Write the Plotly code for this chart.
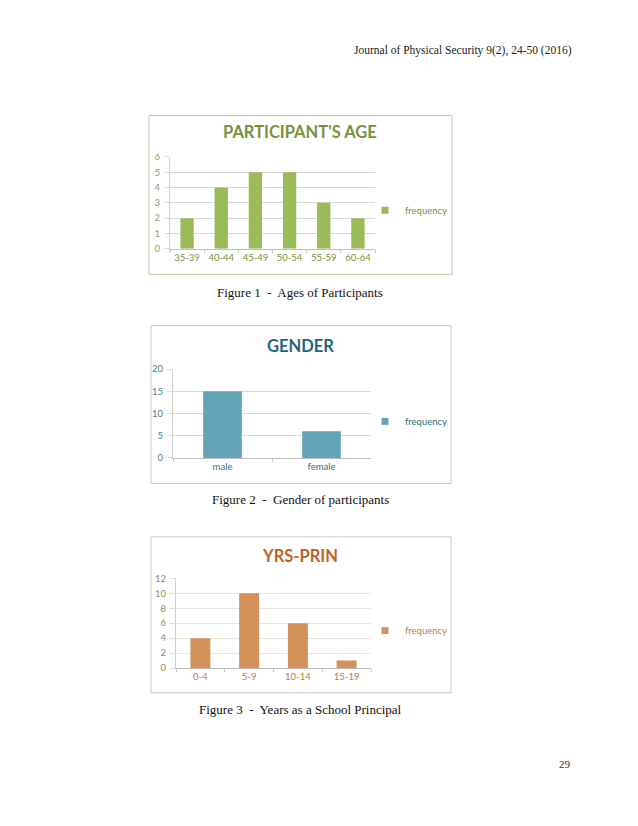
import plotly.graph_objects as go

W, H = 638, 826

age_groups = ["35-39", "40-44", "45-49", "50-54", "55-59", "60-64"]
age_freq = [2, 4, 5, 5, 3, 2]

gender_cats = ["male", "female"]
gender_freq = [15, 6]

yrs_cats = ["0-4", "5-9", "10-14", "15-19"]
yrs_freq = [4, 10, 6, 1]

titles = ["PARTICIPANT'S AGE", "GENDER", "YRS-PRIN"]
captions = ["Figure 1  -  Ages of Participants",
            "Figure 2  -  Gender of participants",
            "Figure 3  -  Years as a School Principal"]
header = "Journal of Physical Security 9(2), 24-50 (2016)"
page_no = "29"

def px(x):
    return x / W

def py(y):
    return 1 - y / H

charts = [
    dict(cats=age_groups, vals=age_freq, bar="#9BBB59", title="#77933C", tick="#77933C",
         ytick="#8E9C78", grid="#D9D9D9", border="#C4C9A8", ymax=6, dtick=1, width=0.39,
         plot=(170, 375, 153, 246), box=(149, 452, 111, 272), title_y=128,
         leg=(365, 207), cap_y=290),
    dict(cats=gender_cats, vals=gender_freq, bar="#62A3B6", title="#22657C", tick="#2F7089",
         ytick="#4F7F90", grid="#CFDDE2", border="#B9C9CF", ymax=20, dtick=5, width=0.39,
         plot=(173, 371, 368, 458), box=(151, 451, 324, 484), title_y=345,
         leg=(365, 421), cap_y=500),
    dict(cats=yrs_cats, vals=yrs_freq, bar="#D4915A", title="#C0622A", tick="#C07A45",
         ytick="#A08670", grid="#F0E6DC", border="#D6C8B5", ymax=12, dtick=2, width=0.41,
         plot=(176, 371, 580, 671), box=(151, 451, 538, 696), title_y=557,
         leg=(365, 633), cap_y=713),
]

fig = go.Figure()
shapes = []
annotations = []
layout_extra = {}

for i, c in enumerate(charts):
    n = "" if i == 0 else str(i + 1)
    xa, ya = "x" + n, "y" + n
    legname = "legend" if i == 0 else "legend" + str(i + 1)
    fig.add_trace(go.Bar(x=c["cats"], y=c["vals"], xaxis=xa, yaxis=ya,
                         marker=dict(color=c["bar"], line=dict(width=0)),
                         width=c["width"], name="frequency", showlegend=False))
    # legend entry with a small square key, as in the original
    fig.add_trace(go.Scatter(x=[None], y=[None], xaxis=xa, yaxis=ya, mode="markers",
                             marker=dict(symbol="square", size=7, color=c["bar"]),
                             name="frequency", showlegend=True, legend=legname,
                             hoverinfo="skip"))
    x0, x1, ytop, ybot = c["plot"]
    layout_extra["xaxis" + n] = dict(
        domain=[px(x0), px(x1)], anchor=ya, type="category", tickangle=0,
        showgrid=False, showline=True, linecolor="#BFBFBF", linewidth=1,
        ticks="outside", tickson="boundaries", ticklen=3, tickcolor="#C8C8C8",
        tickfont=dict(family="Lato", size=9.5, color=c["tick"]), fixedrange=True)
    layout_extra["yaxis" + n] = dict(
        domain=[py(ybot), py(ytop)], anchor=xa, range=[0, c["ymax"]], dtick=c["dtick"],
        showgrid=True, gridcolor=c["grid"], gridwidth=1, zeroline=False,
        showline=True, linecolor="#D0D0D0", linewidth=1,
        ticks="outside", ticklen=5, tickcolor="#DDDDDD", ticklabelstandoff=2,
        tickfont=dict(family="Lato", size=9.5, color=c["ytick"]), fixedrange=True)
    lx, ly = c["leg"]
    layout_extra[legname] = dict(
        x=px(lx), y=py(ly), xanchor="left", yanchor="middle",
        font=dict(family="Lato", size=9.5, color=c["tick"]),
        bgcolor="rgba(0,0,0,0)", itemwidth=30, tracegroupgap=0)
    bx0, bx1, by0, by1 = c["box"]
    shapes.append(dict(type="rect", xref="paper", yref="paper",
                       x0=px(bx0), x1=px(bx1), y0=py(by1), y1=py(by0),
                       line=dict(color=c["border"], width=1), fillcolor="rgba(0,0,0,0)",
                       layer="below"))
    annotations.append(dict(text="<b>" + titles[i] + "</b>", xref="paper", yref="paper",
                            x=px(300), y=py(c["title_y"]), xanchor="center", yanchor="middle",
                            showarrow=False,
                            font=dict(family="Lato", size=16.5, color=c["title"])))
    annotations.append(dict(text=captions[i], xref="paper", yref="paper",
                            x=px(300), y=py(c["cap_y"]), xanchor="center", yanchor="middle",
                            showarrow=False,
                            font=dict(family="Liberation Serif", size=13, color="#111111")))

annotations.append(dict(text=header, xref="paper", yref="paper", x=px(574), y=py(45),
                        xanchor="right", yanchor="middle", showarrow=False,
                        font=dict(family="Liberation Serif", size=11.5, color="#222222")))
annotations.append(dict(text=page_no, xref="paper", yref="paper", x=px(573), y=py(768),
                        xanchor="right", yanchor="middle", showarrow=False,
                        font=dict(family="Liberation Serif", size=11, color="#333333")))

fig.update_layout(width=W, height=H, margin=dict(l=0, r=0, t=0, b=0),
                  paper_bgcolor="white", plot_bgcolor="white",
                  shapes=shapes, annotations=annotations, showlegend=True,
                  **layout_extra)

fig.write_html("out.html", config={"displayModeBar": False},
               post_script="document.body.style.margin='0';")
